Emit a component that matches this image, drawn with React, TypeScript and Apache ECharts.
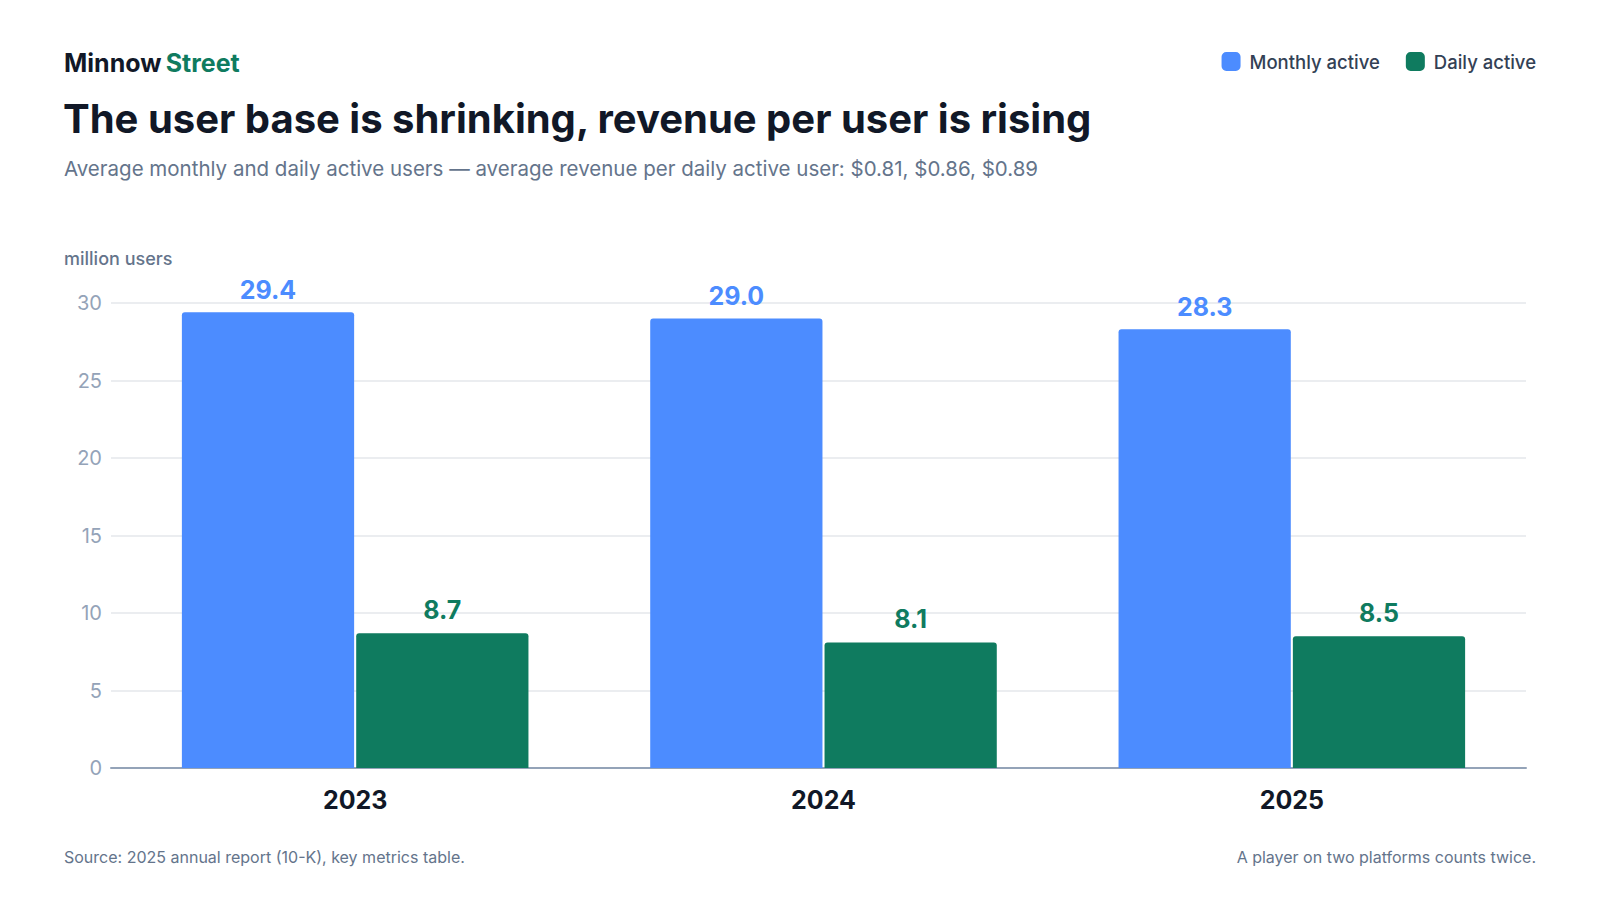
import React, { useEffect, useRef } from 'react';
import * as echarts from 'echarts';

// 数据
const years = ['2023', '2024', '2025'];
const monthlyActive = [29.4, 29.0, 28.3];
const dailyActive = [8.7, 8.1, 8.5];
const yTicks = [0, 5, 10, 15, 20, 25, 30];

const BLUE = '#4c8cff';
const GREEN = '#0f7b5f';
const FONT = 'Inter, "Noto Sans", sans-serif';

const App: React.FC = () => {
  const chartRef = useRef<HTMLDivElement>(null);

  useEffect(() => {
    document.body.style.margin = '0';
    if (!chartRef.current) return;
    const chart = echarts.init(chartRef.current, undefined, { renderer: 'svg' });

    const yMin = yTicks[0];
    const yMax = yTicks[yTicks.length - 1];
    const yStep = yTicks[1] - yTicks[0];

    const option: echarts.EChartsOption = {
      animation: false,
      backgroundColor: '#ffffff',
      textStyle: { fontFamily: FONT },
      title: [
        {
          text: '{a|Minnow} {b|Street}',
          left: 64,
          top: 50,
          padding: 0,
          textStyle: {
            rich: {
              a: { fontSize: 25, fontWeight: 700, color: '#111827', fontFamily: FONT },
              b: { fontSize: 25, fontWeight: 700, color: GREEN, fontFamily: FONT },
            },
          },
        },
        {
          text: 'The user base is shrinking, revenue per user is rising',
          left: 63,
          top: 98,
          padding: 0,
          textStyle: { fontSize: 40, fontWeight: 700, color: '#111827', fontFamily: FONT },
        },
        {
          text: 'Average monthly and daily active users — average revenue per daily active user: $0.81, $0.86, $0.89',
          left: 64,
          top: 158,
          padding: 0,
          textStyle: { fontSize: 20.5, fontWeight: 400, color: '#64748b', fontFamily: FONT },
        },
        {
          text: 'million users',
          left: 64,
          top: 249,
          padding: 0,
          textStyle: { fontSize: 18, fontWeight: 500, color: '#64748b', fontFamily: FONT },
        },
        {
          text: 'Source: 2025 annual report (10-K), key metrics table.',
          left: 64,
          top: 849,
          padding: 0,
          textStyle: { fontSize: 16, fontWeight: 400, color: '#64748b', fontFamily: FONT },
        },
        {
          text: 'A player on two platforms counts twice.',
          right: 64,
          top: 849,
          padding: 0,
          textStyle: { fontSize: 16, fontWeight: 400, color: '#64748b', fontFamily: FONT },
        },
      ],
      legend: {
        right: 64,
        top: 52,
        padding: 0,
        itemWidth: 19,
        itemHeight: 19,
        itemGap: 26,
        icon: 'roundRect',
        textStyle: { fontSize: 18.5, fontWeight: 500, color: '#334155', fontFamily: FONT, padding: [0, 0, 0, 4] },
        data: ['Monthly active', 'Daily active'],
      },
      grid: [
        // 柱子
        { left: 121, right: 74, top: 303, bottom: 132 },
        // 网格线与纵轴
        { left: 111, right: 74, top: 303, bottom: 132 },
      ],
      xAxis: [
        {
          type: 'category',
          gridIndex: 0,
          data: years,
          axisLine: { show: false },
          axisTick: { show: false },
          axisLabel: {
            margin: 19,
            fontSize: 25,
            fontWeight: 700,
            color: '#111827',
            fontFamily: FONT,
          },
        },
        {
          type: 'value',
          gridIndex: 1,
          show: true,
          min: 0,
          max: 1,
          axisLine: { show: true, onZero: false, lineStyle: { color: '#94a3b8', width: 2 } },
          axisTick: { show: false },
          axisLabel: { show: false },
          splitLine: { show: false },
        },
      ],
      yAxis: [
        {
          type: 'value',
          gridIndex: 0,
          min: yMin,
          max: yMax,
          interval: yStep,
          axisLine: { show: false },
          axisTick: { show: false },
          axisLabel: { show: false },
          splitLine: { show: false },
        },
        {
          type: 'value',
          gridIndex: 1,
          min: yMin,
          max: yMax,
          interval: yStep,
          axisLine: { show: false },
          axisTick: { show: false },
          axisLabel: {
            margin: 9,
            fontSize: 20,
            color: '#94a3b8',
            fontFamily: FONT,
          },
          splitLine: { show: true, lineStyle: { color: '#e5e7eb', width: 1.5 } },
        },
      ],
      series: [
        {
          name: 'Monthly active',
          type: 'bar',
          xAxisIndex: 0,
          yAxisIndex: 0,
          data: monthlyActive,
          barCategoryGap: '26%',
          barGap: '1.2%',
          itemStyle: { color: BLUE, borderRadius: [3, 3, 0, 0] },
          label: {
            show: true,
            position: 'top',
            distance: 10,
            formatter: (p: any) => p.value.toFixed(1),
            fontSize: 25,
            fontWeight: 700,
            color: BLUE,
            fontFamily: FONT,
          },
          z: 3,
        },
        {
          name: 'Daily active',
          type: 'bar',
          xAxisIndex: 0,
          yAxisIndex: 0,
          data: dailyActive,
          itemStyle: { color: GREEN, borderRadius: [3, 3, 0, 0] },
          label: {
            show: true,
            position: 'top',
            distance: 11,
            formatter: (p: any) => p.value.toFixed(1),
            fontSize: 25,
            fontWeight: 700,
            color: GREEN,
            fontFamily: FONT,
          },
          z: 3,
        },
      ],
    };

    chart.setOption(option);

    return () => {
      chart.dispose();
    };
  }, []);

  return (
    <div
      ref={chartRef}
      style={{ position: 'fixed', left: 0, top: 0, width: 1600, height: 900 }}
    />
  );
};

export default App;
